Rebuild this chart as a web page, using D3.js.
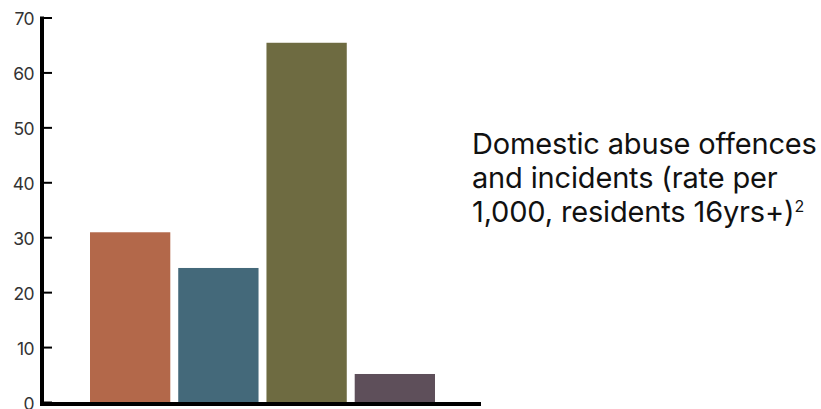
<!DOCTYPE html>
<html>
<head>
<meta charset="utf-8">
<script src="https://cdn.jsdelivr.net/npm/d3@7"></script>
<style>
  body { margin: 0; background: #fff; }
  svg { display: block; }
</style>
</head>
<body>
<div id="chart"></div>
<script>
// Chart data
let categories = ["Area A", "Area B", "Area C", "Area D"];
let rates = [30.9, 24.4, 65.4, 5.1];
let barColors = ["#b3684a", "#44697a", "#6e6b41", "#5e4f5a"];
let yTicks = [0, 10, 20, 30, 40, 50, 60, 70];
let titleLines = ["Domestic abuse offences", "and incidents (rate per", "1,000, residents 16yrs+)"];

let svgWidth = 821;
let svgHeight = 409;

let svg = d3.select("#chart")
  .append("svg")
  .attr("width", svgWidth)
  .attr("height", svgHeight);

// scales
let xBand = d3.scaleBand()
  .domain(categories)
  .range([90, 435])
  .paddingInner(0.09)
  .paddingOuter(0);

let yLinear = d3.scaleLinear()
  .domain([0, 70])
  .range([402, 17.5]);

// bars
svg.append("g")
  .selectAll("rect")
  .data(categories)
  .enter()
  .append("rect")
  .attr("x", d => xBand(d))
  .attr("width", xBand.bandwidth())
  .attr("y", (d, i) => yLinear(rates[i]))
  .attr("height", (d, i) => yLinear(0) - yLinear(rates[i]))
  .attr("fill", (d, i) => barColors[i]);

// y axis, ticks pointing into the plot
let leftAxis = d3.axisLeft(yLinear)
  .tickValues(yTicks)
  .tickSizeInner(-10)
  .tickSizeOuter(0)
  .tickPadding(8);

let yAxis = svg.append("g")
  .attr("transform", "translate(42, 0)")
  .call(leftAxis);

yAxis.select(".domain").remove();
yAxis.selectAll(".tick line")
  .attr("stroke", "#000")
  .attr("stroke-width", 2);
yAxis.selectAll(".tick text")
  .attr("fill", "#333")
  .attr("dy", "0.4em")
  .style("font-family", "Inter, 'Liberation Sans', sans-serif")
  .style("font-size", "17.5px")
  .style("letter-spacing", "-0.6px");

// thick axis lines
svg.append("line")
  .attr("x1", 42).attr("x2", 42)
  .attr("y1", yLinear(70) - 1).attr("y2", 406)
  .attr("stroke", "#000")
  .attr("stroke-width", 4);

svg.append("line")
  .attr("x1", 40).attr("x2", 481)
  .attr("y1", 404).attr("y2", 404)
  .attr("stroke", "#000")
  .attr("stroke-width", 4);

// title text on the right
let title = svg.append("text")
  .attr("x", 472)
  .attr("y", 154)
  .attr("fill", "#111")
  .style("font-family", "Inter, 'Liberation Sans', sans-serif")
  .style("font-size", "29px");

titleLines.forEach((line, i) => {
  let t = title.append("tspan")
    .attr("x", 472)
    .attr("dy", i === 0 ? 0 : 34)
    .text(line);
  if (i === titleLines.length - 1) {
    t.append("tspan")
      .attr("dy", -10)
      .style("font-size", "16px")
      .text("2");
  }
});

// squeeze or spread the tracking so the first line spans like the reference
let firstLine = title.select("tspan").node();
let natural = firstLine.getComputedTextLength();
let spacing = (345 - natural) / (titleLines[0].length - 1);
title.style("letter-spacing", spacing.toFixed(2) + "px");
</script>
</body>
</html>
